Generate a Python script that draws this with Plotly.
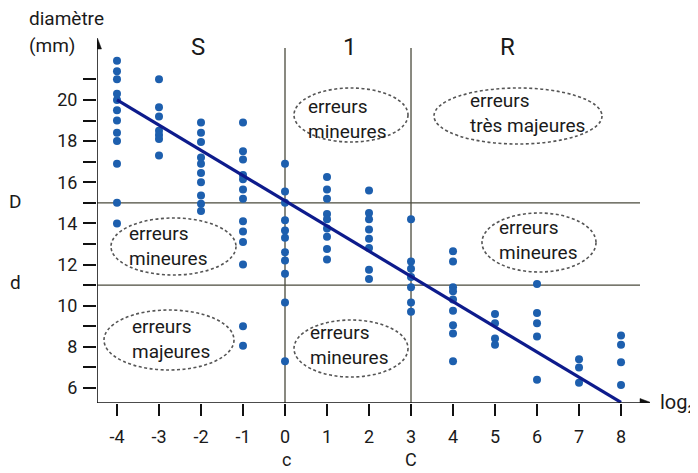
import plotly.graph_objects as go

# ---------------- data ----------------
log2_cmi = [-4, -3, -2, -1, 0, 1, 2, 3, 4, 5, 6, 7, 8]
diam_m4 = [21.9, 21.4, 21.0, 20.3, 20.0, 19.5, 19.0, 18.4, 18.0, 16.9, 15.0, 14.0]
diam_m3 = [21.0, 19.65, 19.2, 18.5, 18.3, 18.1, 17.3]
diam_m2 = [18.9, 18.4, 17.95, 17.2, 16.9, 16.45, 16.0, 15.35, 14.95, 14.6]
diam_m1 = [18.9, 17.5, 17.1, 16.35, 16.15, 15.65, 15.2, 14.1, 13.6, 13.1, 12.0, 9.0, 8.05]
diam_0 = [16.9, 15.55, 15.0, 14.15, 13.65, 13.3, 12.6, 12.2, 11.55, 10.15, 7.3]
diam_1 = [16.25, 15.65, 15.2, 14.45, 14.2, 13.75, 13.35, 12.75, 12.25]
diam_2 = [15.6, 14.5, 14.2, 13.7, 13.25, 12.8, 11.75, 11.3]
diam_3 = [14.2, 12.15, 11.8, 11.4, 10.9, 10.15, 9.7]
diam_4 = [12.65, 12.15, 10.9, 10.7, 10.3, 9.75, 9.05, 8.65, 7.3]
diam_5 = [9.6, 9.15, 8.4, 8.1]
diam_6 = [11.05, 9.65, 9.15, 8.5, 6.4]
diam_7 = [7.4, 7.0, 6.25]
diam_8 = [8.55, 8.1, 7.25, 6.15]
columns = [diam_m4, diam_m3, diam_m2, diam_m1, diam_0, diam_1, diam_2,
           diam_3, diam_4, diam_5, diam_6, diam_7, diam_8]

reg_x = [-4, 8]
reg_y = [20.0, 5.3]

conc_c = 0      # c
conc_C = 3      # C
diam_D = 15     # D
diam_d = 11     # d

y_major = [6, 8, 10, 12, 14, 16, 18, 20]
y_minor = [7, 9, 11, 13, 15, 17, 19, 21]
x_tickvals = log2_cmi

zone_texts = ["erreurs<br>mineures", "erreurs<br>très majeures",
              "erreurs<br>mineures", "erreurs<br>mineures",
              "erreurs<br>majeures", "erreurs<br>mineures"]

# --------------- geometry helpers (layout only, page pixels) ---------------
W, H = 698, 473
OFF = 8                       # default body margin of the html page
L, R, T, B = 97, 48, 38, 70   # plot area edges in page pixels
X0, X1 = -4.476, 8.69
Y0, Y1 = 5.27, 23.01
PW, PH = W - L - R, H - T - B


def px2x(px):
    return X0 + (px - L) / PW * (X1 - X0)


def px2y(py):
    return Y1 - (py - T) / PH * (Y1 - Y0)


def px2paper(px, py):
    return (px - L) / PW, 1 - (py - T) / PH


FONT = "Roboto, DejaVu Sans, sans-serif"
DOT = "#1d5fae"
LINE = "#0d1b8c"
GRID = "#4a4a3c"
TXT = "#1a1a1a"
AX = "#111111"

xs, ys = [], []
for xv, col in zip(log2_cmi, columns):
    xs += [xv] * len(col)
    ys += col

fig = go.Figure()
fig.add_trace(go.Scatter(x=xs, y=ys, mode="markers",
                         marker=dict(size=8, color=DOT), showlegend=False,
                         hoverinfo="skip", cliponaxis=False))
fig.add_trace(go.Scatter(x=reg_x, y=reg_y, mode="lines",
                         line=dict(color=LINE, width=3.2), showlegend=False,
                         hoverinfo="skip", cliponaxis=False))

shapes = []
for xv in (conc_c, conc_C):
    shapes.append(dict(type="line", xref="x", yref="y", x0=xv, x1=xv,
                       y0=Y0, y1=px2y(48), line=dict(color=GRID, width=1.3),
                       layer="below"))
for yv in (diam_D, diam_d):
    shapes.append(dict(type="line", xref="x", yref="y", x0=X0, x1=px2x(640),
                       y0=yv, y1=yv, line=dict(color=GRID, width=1.3),
                       layer="below"))

# axes with arrow heads
shapes.append(dict(type="line", xref="x", yref="y", x0=X0, x1=X0,
                   y0=Y0, y1=px2y(44), line=dict(color=AX, width=1.6)))
shapes.append(dict(type="line", xref="x", yref="y", x0=X0, x1=px2x(644),
                   y0=Y0, y1=Y0, line=dict(color=AX, width=1.6)))


def tri(pts):
    return "M " + " L ".join(f"{px2x(a)},{px2y(b)}" for a, b in pts) + " Z"


shapes.append(dict(type="path", xref="x", yref="y",
                   path=tri([(97, 37), (92.5, 49), (101.5, 49)]),
                   fillcolor=AX, line=dict(color=AX, width=0.5)))
shapes.append(dict(type="path", xref="x", yref="y",
                   path=tri([(652, 403), (640, 398.5), (640, 407.5)]),
                   fillcolor=AX, line=dict(color=AX, width=0.5)))

# dashed ellipses: (left, right, top, bottom) in page px, and text anchor
ellipses = [
    (294, 408, 88, 142, 306, 119),
    (434, 602, 88, 144, 468, 113),
    (111, 236, 218, 275, 127, 246),
    (482, 596, 213, 272, 497, 240),
    (104, 234, 310, 370, 130, 339),
    (294, 408, 320, 377, 308, 345),
]
annotations = []
for (l, r, t, b, tx, ty), label in zip(ellipses, zone_texts):
    shapes.append(dict(type="circle", xref="x", yref="y",
                       x0=px2x(l), x1=px2x(r), y0=px2y(b), y1=px2y(t),
                       line=dict(color="#555555", width=1.6, dash="3px,2.5px"),
                       layer="above"))
    xp, yp = px2paper(tx, ty)
    annotations.append(dict(text=label, x=xp, y=yp, xref="paper", yref="paper",
                            showarrow=False, xanchor="left", yanchor="middle",
                            align="left",
                            font=dict(family=FONT, size=19, color=TXT)))


def txt(text, px, py, size=19, xanchor="left", yanchor="middle"):
    xp, yp = px2paper(px, py)
    annotations.append(dict(text=text, x=xp, y=yp, xref="paper", yref="paper",
                            showarrow=False, xanchor=xanchor, yanchor=yanchor,
                            font=dict(family=FONT, size=size, color=TXT)))


# zone labels
txt("S", 198, 47, size=24, xanchor="center")
txt("1", 350, 47, size=24, xanchor="center")
txt("R", 507, 47, size=24, xanchor="center")

# axis titles & marks
txt("diamètre", 27, 18, size=19)
txt("(mm)", 27, 45, size=19)
txt("D", 15, 201, size=19, xanchor="center")
txt("d", 15, 282, size=19, xanchor="center")
txt("c", 286, 472, size=18, xanchor="center", yanchor="bottom")
txt("C", 411, 472, size=18, xanchor="center", yanchor="bottom")
txt("log₂", 658, 402, size=20)

fig.update_layout(
    width=W - OFF, height=H - OFF,
    margin=dict(l=L - OFF, r=R, t=T - OFF, b=B, pad=0),
    paper_bgcolor="white", plot_bgcolor="white",
    shapes=shapes, annotations=annotations,
    xaxis=dict(range=[X0, X1], tickvals=x_tickvals,
               ticktext=[str(v) for v in x_tickvals],
               ticks="outside", ticklen=12, tickwidth=1.5, tickcolor=AX,
               ticklabelstandoff=5,
               showgrid=False, zeroline=False, showline=False,
               tickfont=dict(family=FONT, size=18, color=TXT),
               fixedrange=True),
    yaxis=dict(range=[Y0, Y1], tickvals=y_major,
               ticktext=[str(v) for v in y_major],
               ticks="outside", ticklen=13, tickwidth=1.5, tickcolor=AX,
               ticklabelstandoff=2,
               minor=dict(tickvals=y_minor, ticks="outside", ticklen=13,
                          tickwidth=1.5, tickcolor=AX, showgrid=False),
               showgrid=False, zeroline=False, showline=False,
               tickfont=dict(family=FONT, size=18, color=TXT),
               fixedrange=True),
)

fig.write_html("out.html")
